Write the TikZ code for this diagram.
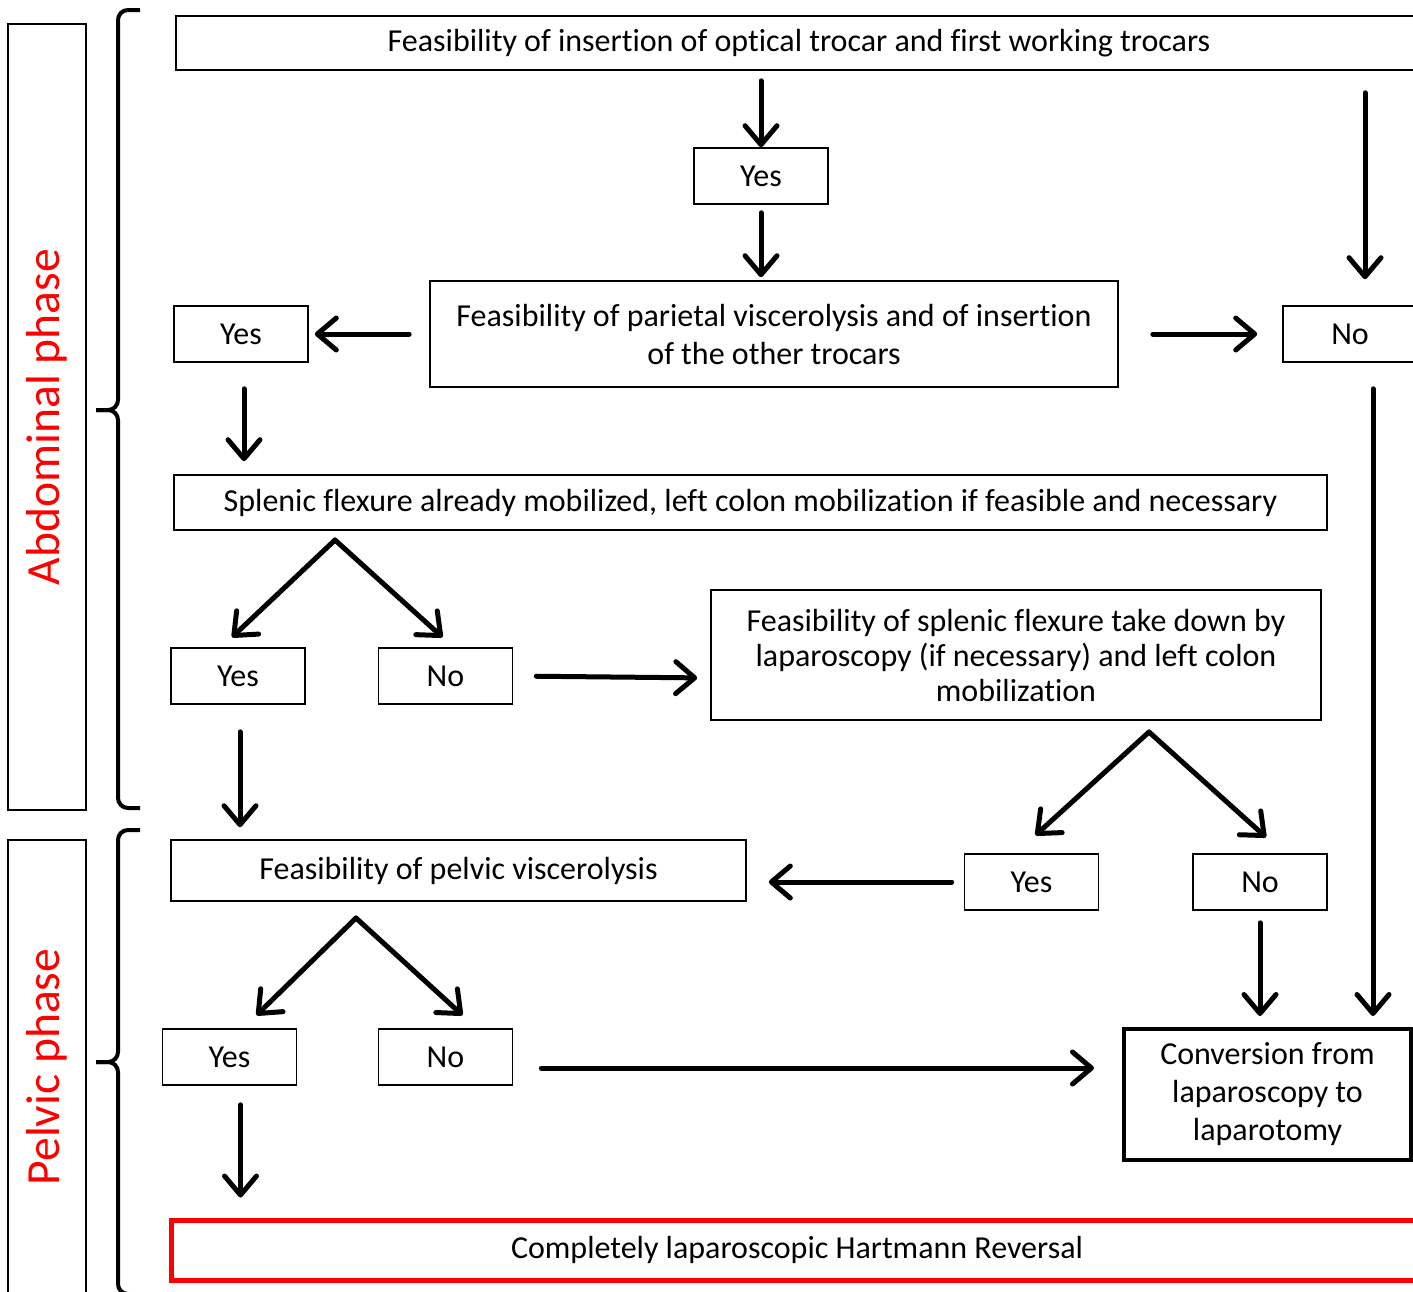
\documentclass[tikz,border=0pt]{standalone}
\usepackage{fontspec}
\setmainfont{Carlito}[Ligatures=NoCommon]
\usetikzlibrary{arrows.meta}

\tikzset{
  box/.style={draw, line width=0.8pt, inner sep=0pt, align=center,
    font=\fontsize{16}{19}\selectfont},
  ans/.style={box, minimum width=67pt, minimum height=28pt},
  phasebox/.style={draw, line width=0.8pt, inner sep=0pt, rotate=90,
    minimum height=39pt, text=red, font=\fontsize{23.8}{28}\selectfont},
  arrow/.style={-{Straight Barb[length=9.5pt,width=16pt,round]}, line width=2.5pt, line cap=round},
  brace/.style={line width=2pt, rounded corners=5pt}
}

\begin{document}
\begin{tikzpicture}[x=0.5pt, y=-0.5pt]
            \useasboundingbox (0,0) rectangle (1413,1291);

            \node[phasebox, minimum width=393pt] (abd) at (47, 417) {Abdominal phase};
            \node[phasebox, minimum width=227pt] (pel) at (47, 1067) {Pelvic phase};

            \draw[brace] (140,10) -- (118,10) -- (118,410) -- (96,410);
            \draw[brace] (96,410) -- (118,410) -- (118,808) -- (140,808);
            \draw[brace] (140,830) -- (118,830) -- (118,1062) -- (96,1062);
            \draw[brace] (96,1062) -- (118,1062) -- (118,1294) -- (140,1294);

            \node[box, minimum width=623pt, minimum height=27pt] (trocars) at (799, 43) {Feasibility of insertion of optical trocar and first working trocars};
            \node[ans] (yes1) at (761, 176) {Yes};
            \node[box, minimum width=344pt, minimum height=53pt] (parietal) at (774, 334) {Feasibility of parietal viscerolysis and of insertion\\of the other trocars};
            \node[ans] (yes2) at (241, 334) {Yes};
            \node[ans] (no1) at (1350, 334) {No};
            \node[box, minimum width=576.5pt, minimum height=27.5pt] (splenic) at (750.5, 502.5) {Splenic flexure already mobilized, left colon mobilization if feasible and necessary};
            \node[ans] (yes3) at (238, 676) {Yes};
            \node[ans] (no2) at (445.5, 676) {No};
            \node[box, font=\fontsize{16}{17.5}\selectfont, minimum width=305pt, minimum height=65pt] (takedown) at (1016, 655) {Feasibility of splenic flexure take down by\\laparoscopy (if necessary) and left colon\\mobilization};
            \node[ans] (yes4) at (1031.5, 882) {Yes};
            \node[ans] (no3) at (1260, 882) {No};
            \node[box, minimum width=287.5pt, minimum height=30.5pt] (pelvic) at (458.5, 870.5) {Feasibility of pelvic viscerolysis};
            \node[ans] (yes5) at (229.5, 1057) {Yes};
            \node[ans] (no4) at (445.5, 1057) {No};
            \node[box, line width=2pt, minimum width=143.5pt, minimum height=65.5pt] (conversion) at (1267.5, 1094.5) {Conversion from\\laparoscopy to\\laparotomy};
            \node[box, draw=red, line width=2.5pt, minimum width=626pt, minimum height=30pt] (reversal) at (797, 1250) {Completely laparoscopic Hartmann Reversal};

            \coordinate (fork1) at (335, 540);
            \coordinate (fork2) at (1149, 732);
            \coordinate (fork3) at (356, 918);

            \draw[arrow, shorten <=5pt] (yes1 |- trocars.south) -- (yes1.north);
            \draw[arrow, shorten <=4pt, shorten >=1.5pt] (yes1.south) -- (yes1.south |- parietal.north);
            \draw[arrow, shorten <=11pt, shorten >=13pt] ([xshift=7.5pt]no1.north |- trocars.south) -- ([xshift=7.5pt]no1.north);
            \draw[arrow, shorten <=10pt, shorten >=3pt] (parietal.west) -- (yes2.east);
            \draw[arrow, shorten <=17pt, shorten >=12.5pt] (parietal.east) -- (no1.west);
            \draw[arrow, shorten <=13pt, shorten >=6.5pt] ([xshift=1.5pt]yes2.south) -- ([xshift=1.5pt]yes2.south |- splenic.north);
            \draw[arrow] (fork1) -- ([shift={(-3pt,5pt)}]yes3.north);
            \draw[arrow] (fork1) -- ([shift={(-1.5pt,5pt)}]no2.north);
            \draw[arrow, shorten <=11.5pt, shorten >=6.5pt] (no2.east) -- ([yshift=-1pt]no2.east -| takedown.west);
            \draw[arrow, shorten <=13.5pt, shorten >=6pt] ([xshift=1pt]yes3.south) -- ([xshift=1pt]yes3.south |- pelvic.north);
            \draw[arrow] (fork2) -- ([shift={(2pt,9pt)}]yes4.north);
            \draw[arrow] (fork2) -- ([shift={(3pt,8pt)}]no3.north);
            \draw[arrow, shorten <=6pt, shorten >=11pt] (yes4.west) -- (yes4.west -| pelvic.east);
            \draw[arrow, shorten <=6pt, shorten >=5.5pt] (no3.south) -- (no3.south |- conversion.north);
            \draw[arrow, shorten <=13pt, shorten >=5.5pt] ([xshift=11.5pt]no1.south) -- ([xshift=11.5pt]no1.south |- conversion.north);
            \draw[arrow] (fork3) -- ([shift={(13.5pt,6.5pt)}]yes5.north);
            \draw[arrow] (fork3) -- ([shift={(8.5pt,6.5pt)}]no4.north);
            \draw[arrow, shorten <=14pt, shorten >=14pt] ([yshift=-5.5pt]no4.east) -- ([yshift=-5.5pt]no4.east -| conversion.west);
            \draw[arrow, shorten <=9.5pt, shorten >=10pt] ([xshift=5.5pt]yes5.south) -- ([xshift=5.5pt]yes5.south |- reversal.north);
        \end{tikzpicture}
\end{document}
